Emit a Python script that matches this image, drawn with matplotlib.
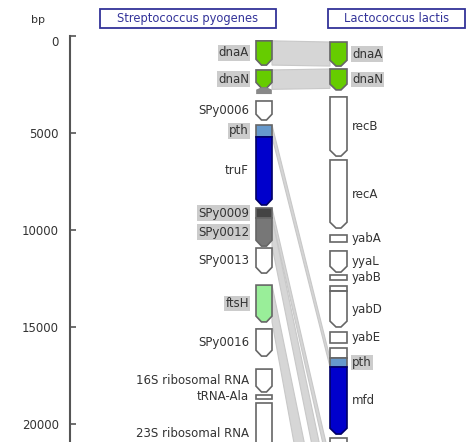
import matplotlib
matplotlib.use('Agg')
import matplotlib.pyplot as plt
from matplotlib.patches import Polygon, Rectangle

# Streptococcus pyogenes - geny (bp)
spy_names = ['dnaA', 'dnaN', '', 'SPy0006', 'pth', 'truF', 'SPy0009', 'SPy0012',
             'SPy0013', 'ftsH', 'SPy0016', '16S ribosomal RNA', 'tRNA-Ala',
             '23S ribosomal RNA']
spy_start = [250, 1750, 2690, 3350, 4590, 5200, 8870, 9380, 10930, 12840, 15100,
             17170, 18500, 18920]
spy_end = [1500, 2690, 2950, 4330, 5200, 8710, 9380, 10830, 12220, 14740, 16500,
           18350, 18710, 22100]

# Lactococcus lactis - geny (bp)
lla_names = ['dnaA', 'dnaN', 'recB', 'recA', 'yabA', 'yyaL', 'yabB', '', 'yabD',
             'yabE', '', 'pth', 'mfd', '']
lla_start = [310, 1700, 3140, 6390, 10260, 11080, 12320, 12890, 13150, 15260,
             16080, 16600, 17060, 20720]
lla_end = [1550, 2780, 6190, 9900, 10620, 12170, 12580, 13150, 15000, 15830,
           16600, 17060, 20520, 22500]

# homologní páry (S. pyogenes úsek -> L. lactis úsek)
hom_spy = [(250, 1500), (1750, 2750), (4590, 5200), (8870, 9380), (9380, 10830),
           (12840, 14740)]
hom_lla = [(310, 1550), (1700, 2700), (16600, 17060), (21860, 22630),
           (23610, 25720), (27430, 31190)]

# barvy a styl
colors = {'dnaA': '#66cc00', 'dnaN': '#66cc00', 'pth': '#6699cc', 'truF': '#0000cc',
          'mfd': '#0000cc', 'SPy0009': '#444444', 'SPy0012': '#777777',
          'ftsH': '#99ee99', 'gray': '#888888'}
highlight_spy = {'dnaA', 'dnaN', 'pth', 'SPy0009', 'SPy0012', 'ftsH'}
highlight_lla = {'dnaA', 'dnaN', 'pth'}
arrow_spy = {'dnaA', 'dnaN', 'SPy0006', 'truF', 'SPy0012', 'SPy0013', 'ftsH',
             'SPy0016', '16S ribosomal RNA'}
arrow_lla = {'dnaA', 'dnaN', 'recB', 'recA', 'yyaL', 'yabD', 'mfd'}

PX = 51.55      # bp na pixel
Y0 = 36         # pixel pozice 0 bp
col_spy = (256, 272)
col_lla = (330, 347)
FS = 8.5


def gene_shape(ax, x0, x1, s, e, color, arrow, up=False, ec='#666666'):
    xc = (x0 + x1) / 2
    if arrow:
        h = min(300, 0.4 * (e - s))
        if up:
            pts = [(xc - 2.5, s), (xc + 2.5, s), (x1, s + h), (x1, e), (x0, e), (x0, s + h)]
        else:
            pts = [(x0, s), (x1, s), (x1, e - h), (xc + 2.5, e), (xc - 2.5, e), (x0, e - h)]
        p = Polygon(pts, closed=True, fc=color, ec=ec, lw=1.2, zorder=3)
    else:
        p = Rectangle((x0, s), x1 - x0, e - s, fc=color, ec=ec, lw=1.2, zorder=3)
    ax.add_patch(p)


fig = plt.figure(figsize=(4.66, 4.42), dpi=100)
ax = fig.add_axes([0, 0, 1, 1])
ax.set_xlim(0, 466)
ax.set_ylim((442 - Y0) * PX, (0 - Y0) * PX)

# osa
for s in ['top', 'right', 'bottom']:
    ax.spines[s].set_visible(False)
ax.spines['left'].set_position(('data', 70))
ax.spines['left'].set_bounds(0, 23000)
ax.spines['left'].set_color('#555555')
ax.spines['left'].set_linewidth(1.5)
ax.set_xticks([])
ax.set_yticks([0, 5000, 10000, 15000, 20000])
ax.set_yticklabels(['0', '5000', '10000', '15000', '20000'])
ax.tick_params(axis='y', direction='in', length=4, width=1.2, color='#555555',
               labelsize=8.5, labelcolor='#333333', pad=8)
ax.get_yticklabels()[0].set_va('top')
ax.text(38, (20 - Y0) * PX, 'bp', fontsize=8, color='#333333', ha='center', va='center')

# nadpisy
for name, (bx0, bx1) in [('Streptococcus pyogenes', (100, 276)),
                         ('Lactococcus lactis', (328, 465))]:
    ax.add_patch(Rectangle((bx0, (9 - Y0) * PX), bx1 - bx0, 19 * PX, fc='white',
                           ec='#333399', lw=1.3, zorder=3))
    ax.text((bx0 + bx1) / 2, (18.5 - Y0) * PX, name, fontsize=8.3, color='#333399',
            ha='center', va='center', zorder=4)

# homologie
for (a0, a1), (b0, b1) in zip(hom_spy, hom_lla):
    ax.fill([col_spy[1], col_lla[0], col_lla[0], col_spy[1]], [a0, b0, b1, a1],
            fc='#d6d6d6', ec='#c8c8c8', lw=0.8, zorder=1)

# geny S. pyogenes
for n, s, e in zip(spy_names, spy_start, spy_end):
    if n == '':
        gene_shape(ax, col_spy[0] + 1, col_spy[1] - 1, s, e, colors['gray'], True, up=True,
                   ec='#888888')
        continue
    ec = '#000066' if n == 'truF' else '#666666'
    gene_shape(ax, *col_spy, s, e, colors.get(n, 'white'), n in arrow_spy, ec=ec)
    mid = (s + e) / 2
    if n == '23S ribosomal RNA':
        mid = (434 - Y0) * PX
    bbox = dict(boxstyle='square,pad=0.1', fc='#cccccc', ec='none') if n in highlight_spy else None
    ax.text(col_spy[0] - 7, mid, n, fontsize=FS, color='#333333', ha='right',
            va='center', bbox=bbox, zorder=4)

# geny L. lactis
for n, s, e in zip(lla_names, lla_start, lla_end):
    ec = '#000066' if n == 'mfd' else '#666666'
    gene_shape(ax, *col_lla, s, e, colors.get(n, 'white'), n in arrow_lla, ec=ec)
    if n == '':
        continue
    bbox = dict(boxstyle='square,pad=0.1', fc='#cccccc', ec='none') if n in highlight_lla else None
    ax.text(col_lla[1] + 5, (s + e) / 2, n, fontsize=FS, color='#333333', ha='left',
            va='center', bbox=bbox, zorder=4)

plt.savefig('out.png', dpi=100)
